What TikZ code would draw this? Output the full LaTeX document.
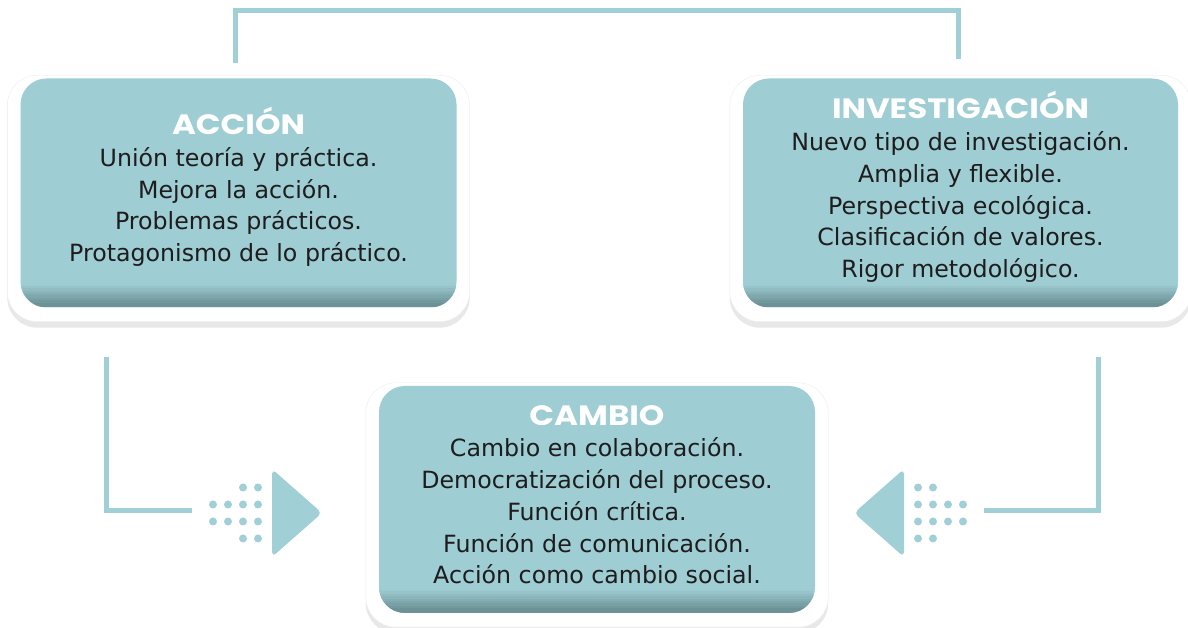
\documentclass[tikz,border=0pt]{standalone}
\usepackage{fontspec}
\usepackage{tikz}
\usetikzlibrary{positioning, backgrounds, shadows}
\newfontfamily\cuerpo{DejaVu Sans}
\newfontfamily\titulo{Poppins Bold}[FakeStretch=1.16]
\definecolor{turquesa}{RGB}{158,205,211}
\definecolor{turquesaosc}{RGB}{108,146,150}
\definecolor{lineaturq}{RGB}{160,207,213}
\definecolor{textocaja}{RGB}{30,28,28}
\newcommand{\encabezado}[1]{{\titulo\color{white}\fontsize{28}{31.7}\selectfont\rule{0pt}{27pt}#1}}
\newcommand{\cierre}{\rule[-17pt]{0pt}{17pt}}

\begin{document}
\begin{tikzpicture}[x=1pt, y=1pt,
		caja/.style={rectangle, rounded corners=26pt, fill=turquesa, inner sep=0pt,
			align=center, text=textocaja, font={\cuerpo\fontsize{23.7}{31.7}\selectfont},
			minimum width=436pt, minimum height=229pt,
			path picture={
				\foreach \i [evaluate=\i as \p using {int(max(0,min(100,112-12*\i)))}] in {0,...,9}
					\fill[sharp corners, turquesaosc!\p!turquesa]
						([yshift=\i*2.4pt]path picture bounding box.south west) rectangle
						([yshift=\i*2.4pt+2.5pt]path picture bounding box.south east);}},
		marco/.style={fill=white, draw=black!7, rounded corners=30pt,
			drop shadow={shadow xshift=0pt, shadow yshift=-6pt, opacity=0.18}},
		enlace/.style={draw=lineaturq, line width=5pt},
		punto/.style={fill=lineaturq},
		flecha/.pic={
			\foreach \cx in {21,36,51,66}
				\foreach \cy in {6,-11} \fill[punto] (\cx,\cy) circle (4pt);
			\foreach \cx in {51,66}
				\foreach \cy in {23,-28} \fill[punto] (\cx,\cy) circle (4pt);
			\fill[punto, rounded corners=5pt] (80,41.5) -- (130,-2.5) -- (80,-46.5) -- cycle;
		}
		]
		\useasboundingbox (0,0) rectangle (1188,628);
		
		% Las cajas
		\node[caja] (accion) at (238.5,435) {\encabezado{ACCIÓN}\\Unión teoría y práctica.\\Mejora la acción.\\Problemas prácticos.\\Protagonismo de lo práctico.\cierre};
		\node[caja, minimum width=435pt] (investigacion) at (960.5,435) {\encabezado{INVESTIGACIÓN}\\Nuevo tipo de investigación.\\Amplia y flexible.\\Perspectiva ecológica.\\Clasificación de valores.\\Rigor metodológico.\cierre};
		\node[caja, minimum height=227pt] (cambio) at (597,128.5) {\encabezado{CAMBIO}\\Cambio en colaboración.\\Democratización del proceso.\\Función crítica.\\Función de comunicación.\\Acción como cambio social.\cierre};
		
		% Los marcos blancos
		\begin{scope}[on background layer]
			\foreach \c in {accion, investigacion, cambio}
				\path[marco] ([xshift=-13pt,yshift=3pt]\c.north west) rectangle ([xshift=13pt,yshift=-14pt]\c.south east);
		\end{scope}
		
		% Los enlaces
		\coordinate (entradaizq) at (192,117.5);
		\coordinate (entradader) at (984,117.5);
		\draw[enlace] ([xshift=-3pt,yshift=15pt]accion.north) -- ++(0,52.5) -| ([xshift=-2pt,yshift=19pt]investigacion.north);
		\draw[enlace] ([xshift=86pt,yshift=-49pt]accion.south west) |- (entradaizq);
		\draw[enlace] ([xshift=-79.5pt,yshift=-49pt]investigacion.south east) |- (entradader);
		
		% Las flechas
		\pic at (entradaizq) {flecha};
		\pic[xscale=-1] at (entradader) {flecha};
	\end{tikzpicture}
\end{document}
